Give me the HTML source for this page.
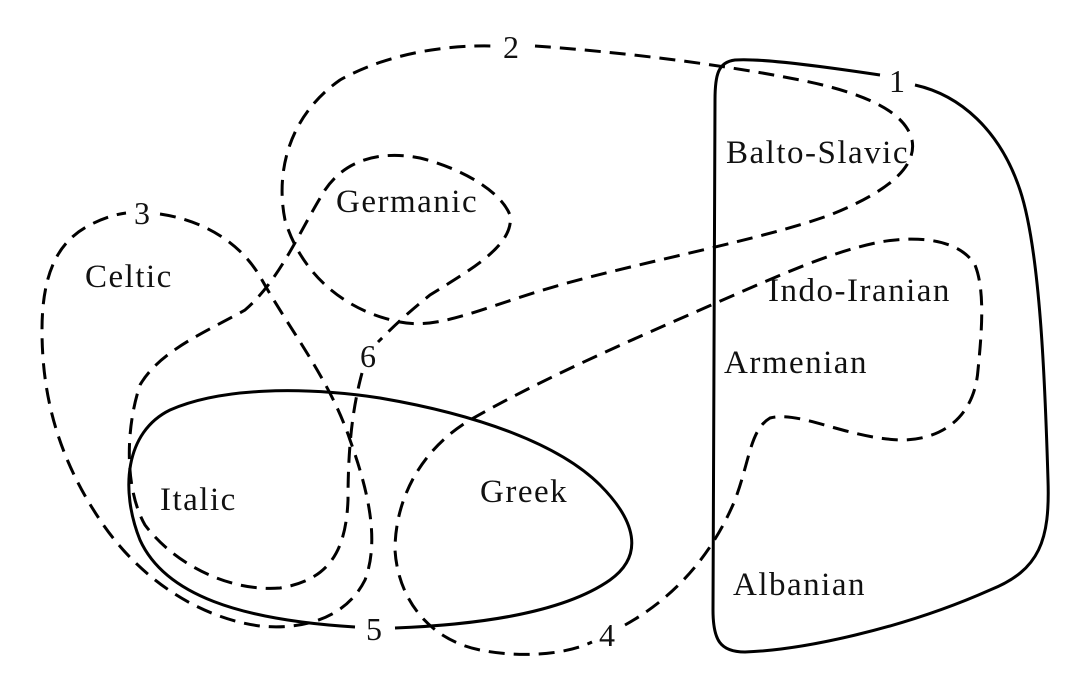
<!DOCTYPE html>
<html><head><meta charset="utf-8"><style>
html,body{margin:0;padding:0;background:#fff;}
svg{display:block;}
text{font-family:"Liberation Serif",serif;font-size:33px;letter-spacing:1.5px;fill:#111;}
text.n{letter-spacing:0;font-size:32px;}
</style></head><body>
<svg width="1082" height="695" viewBox="0 0 1082 695">
<g fill="none" stroke="#000" stroke-width="3" stroke-linecap="butt">
<path d="M880,75 C820,66 760,58 735,60 C718,62 715,75 715,100 L713,610 C713,640 720,652 745,652 C800,650 900,630 990,590 C1040,570 1050,540 1048,480 C1045,380 1040,250 1020,190 C1000,130 960,95 915,85"/>
<path d="M395,628 C470,625 560,615 610,580 C645,555 635,520 600,485 C560,445 480,415 380,398 C300,386 220,388 170,410 C125,432 120,490 140,540 C165,595 240,620 355,627"/>
<g stroke-dasharray="16 9">
<path d="M535,46 C620,52 720,64 800,80 C860,92 905,110 912,140 C918,170 880,195 830,215 C760,240 650,260 560,285 C480,308 440,330 400,322 C340,310 300,270 285,220 C275,170 290,115 340,80 C390,52 450,45 492,46"/>
<path d="M160,214 C200,220 240,240 262,280 C290,330 330,380 350,440 C368,490 380,540 365,580 C345,620 300,630 260,626 C200,618 140,580 100,520 C60,460 42,400 42,330 C42,270 60,240 90,225 C105,217 118,214 126,213"/>
<path d="M625,625 C670,600 710,560 735,500 C750,460 750,430 770,418 C800,410 850,440 905,440 C950,438 975,410 978,370 C982,330 985,290 975,265 C960,240 920,235 880,242 C830,252 780,275 700,310 C620,345 540,380 470,420 C420,450 395,500 395,550 C398,600 430,640 480,650 C520,658 565,655 592,642"/>
<path d="M362,373 C352,410 348,450 348,500 C346,550 330,580 280,588 C230,592 175,565 145,525 C125,490 125,430 140,385 C160,350 210,330 245,310 C280,280 300,230 325,190 C345,160 380,150 420,158 C460,168 500,190 510,215 C515,245 470,270 430,295 C405,315 390,330 378,342"/>
</g>
</g>
<text class="n" x="503" y="58">2</text>
<text class="n" x="889" y="92">1</text>
<text class="n" x="134" y="224">3</text>
<text class="n" x="360" y="367">6</text>
<text class="n" x="366" y="640">5</text>
<text class="n" x="599" y="646">4</text>
<text x="726" y="163">Balto-Slavic</text>
<text x="336" y="212">Germanic</text>
<text x="85" y="287">Celtic</text>
<text x="768" y="301">Indo-Iranian</text>
<text x="724" y="373">Armenian</text>
<text x="160" y="510">Italic</text>
<text x="480" y="502">Greek</text>
<text x="733" y="595">Albanian</text>
</svg>
</body></html>
